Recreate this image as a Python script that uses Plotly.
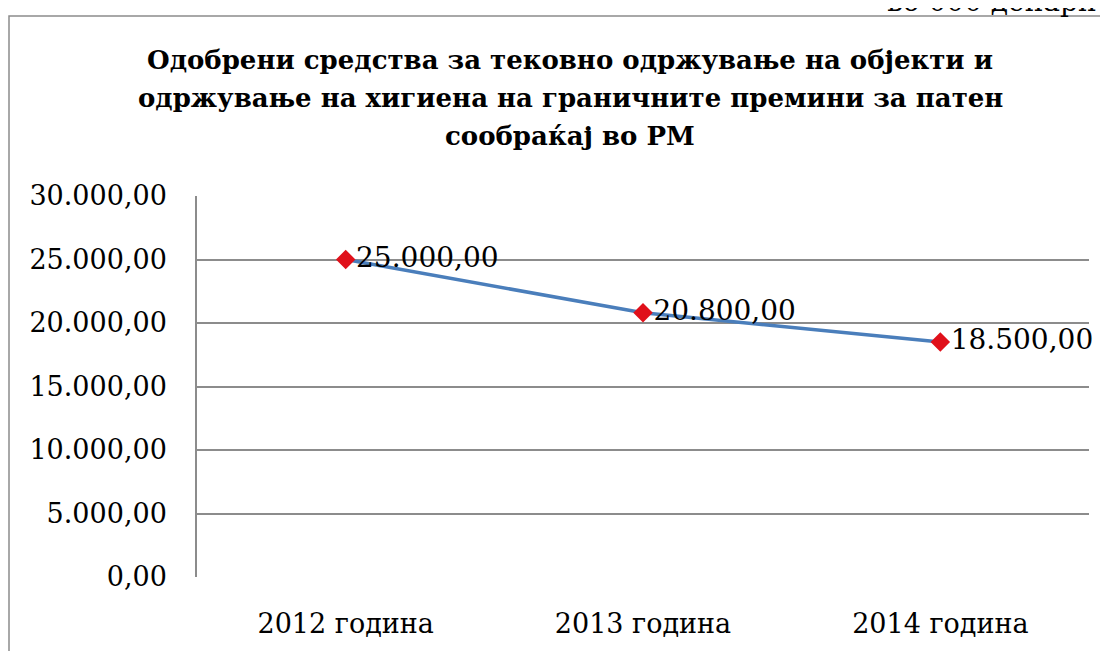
import plotly.graph_objects as go

categories = ["2012 година", "2013 година", "2014 година"]
values = [25000, 20800, 18500]
value_labels = ["25.000,00", "20.800,00", "18.500,00"]
tick_vals = [0, 5000, 10000, 15000, 20000, 25000, 30000]
tick_text = ["0,00", "5.000,00", "10.000,00", "15.000,00", "20.000,00", "25.000,00", "30.000,00"]
title_lines = [
    "Одобрени средства за тековно одржување на објекти и",
    "одржување на хигиена на граничните премини за патен",
    "сообраќај во РМ",
]
unit_text = "во 000 денари"

OFF = 8  # browser body margin
W, H = 1100, 643
L, R, T, B = 197 - OFF, 1089 - OFF, 196 - OFF, 577 - OFF

def px(x):
    return (x - OFF - L) / (R - L)

def py(y):
    return (B - (y - OFF)) / (B - T)

FONT = "DejaVu Serif"

fig = go.Figure()
fig.add_trace(go.Scatter(
    x=[0, 1, 2], y=values,
    mode="lines+markers+text",
    line=dict(color="#4a7ebb", width=3.5),
    marker=dict(symbol="diamond", size=15, color="#e0101a", line=dict(width=0)),
    text=value_labels,
    textposition="middle right",
    textfont=dict(family=FONT, size=28, color="#000000"),
    cliponaxis=False,
    showlegend=False,
))

fig.update_layout(
    width=W, height=H,
    margin=dict(l=L, r=W - R, t=T, b=H - B),
    paper_bgcolor="white",
    plot_bgcolor="white",
    xaxis=dict(
        range=[-0.5, 2.5],
        tickvals=[0, 1, 2],
        ticktext=categories,
        showgrid=False,
        zeroline=False,
        showline=False,
        ticks="",
        tickfont=dict(family=FONT, size=27, color="#000000"),
        ticklabelstandoff=28,
    ),
    yaxis=dict(
        range=[0, 30000],
        tickvals=tick_vals,
        ticktext=tick_text,
        showgrid=True,
        gridcolor="#8c8c8c",
        gridwidth=1.5,
        zeroline=False,
        showline=True,
        linecolor="#8c8c8c",
        linewidth=1.5,
        ticks="",
        tickfont=dict(family=FONT, size=27, color="#000000"),
        ticklabelstandoff=23,
    ),
)

# outer chart frame
fig.add_shape(type="rect", xref="paper", yref="paper",
              x0=px(9), x1=px(1130), y0=py(16), y1=py(680),
              line=dict(color="#8c8c8c", width=1.5), fillcolor="rgba(0,0,0,0)", layer="below")

# title
for i, line in enumerate(title_lines):
    fig.add_annotation(
        text="<b>" + line + "</b>", x=px(570), y=py(60 + 38 * i),
        xref="paper", yref="paper", xanchor="center", yanchor="middle",
        showarrow=False, font=dict(family=FONT, size=26, color="#000000"),
    )

fig.add_annotation(
    text=unit_text, x=px(885), y=py(20), xref="paper", yref="paper",
    xanchor="left", yanchor="bottom", showarrow=False,
    font=dict(family=FONT, size=28, color="#000000"),
)

fig.write_html("out.html")
